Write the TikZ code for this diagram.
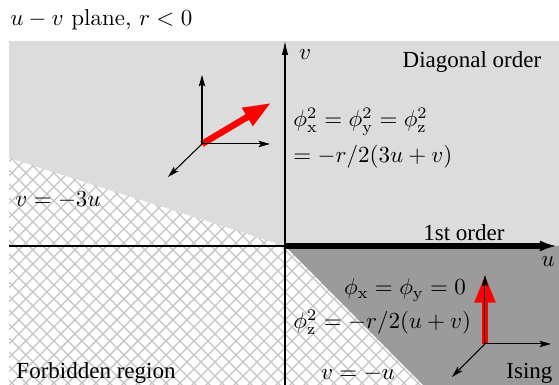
\documentclass[tikz,border=0pt]{standalone}
\usepackage{fontspec}
\newfontfamily\labelfont{Liberation Serif}
\usetikzlibrary{arrows.meta}
\definecolor{diagfill}{HTML}{DCDCDC}
\definecolor{isingfill}{HTML}{9B9B9B}
\definecolor{hatchgray}{HTML}{C4C4C4}
\tikzset{
  axis/.style={black, line width=0.45pt},
  firstorder/.style={black, line width=2.2pt, -{Latex[length=7.4pt,width=4.8pt]}},
  hatch/.style={hatchgray, line width=0.55pt},
  triad/.style={black, line width=0.45pt, -{Stealth[length=5pt,width=2.8pt,inset=1pt]}},
  spin/.style={red, line width=2.8pt, -{Triangle[length=12pt,width=8.5pt]}},
  lbl/.style={inner sep=0pt}
}

\begin{document}
\begin{tikzpicture}
\useasboundingbox (-4.355,-2.124) rectangle (4.187,3.759);

% Regions
\fill[diagfill] (-4.217,1.345) -- (0,0) -- (4.187,0) -- (4.187,3.132) -- (-4.217,3.132) -- cycle;
\fill[isingfill] (0,0) -- (4.187,0) -- (4.187,-2.124) -- (2.109,-2.124) -- cycle;
\begin{scope}
\clip (-4.217,1.345) -- (0,0) -- (2.109,-2.124) -- (-4.217,-2.124) -- cycle;
\foreach \i in {-40,...,30} {
  \draw[hatch] (\i*0.214,-2.2) -- ++(6,6);
  \draw[hatch] (\i*0.214,-2.2) -- ++(-6,6);
}
\end{scope}

% Axes
\coordinate (O) at (0,0);
\coordinate (uL) at (-4.217,0);
\coordinate (uR) at (4.156,0);
\coordinate (vB) at (0,-2.124);
\coordinate (vT) at (0,3.132);
\draw[axis] (uL) -- (O);
\draw[axis,-{Latex[length=6pt,width=2.8pt]}] (vB) -- (vT);
\draw[firstorder] (O) -- (uR);
\node[lbl] (ulabel) at (4.019,-0.244) {$u$};
\node[lbl] (vlabel) at (0.306,2.918) {$v$};

% Title
\node[lbl, anchor=base west] (title) at (-4.202,3.362) {$u-v$ plane, $r<0$};

% Diagonal order
\node[lbl] (diag) at (2.857,2.812) {\labelfont Diagonal order};
\node[lbl, anchor=west] (diageqa) at (0.122,1.895) {$\phi_{\rm x}^2=\phi_{\rm y}^2=\phi_{\rm z}^2$};
\node[lbl, anchor=west] (diageqb) at (0.122,1.360) {$=-r/2(3u+v)$};
\node[lbl, anchor=west] (linea) at (-4.126,0.703) {$v=-3u$};
\node[lbl] (first) at (2.735,0.199) {\labelfont 1st order};

% Ising
\node[lbl] (isingeqa) at (1.834,-0.672) {$\phi_{\rm x}=\phi_{\rm y}=0$};
\node[lbl, anchor=west] (isingeqb) at (0.122,-1.161) {$\phi_{\rm z}^2=-r/2(u+v)$};
\node[lbl] (lineb) at (1.115,-1.956) {$v=-u$};
\node[lbl] (ising) at (3.736,-1.94) {\labelfont Ising};
\node[lbl, anchor=west] (forbid) at (-4.11,-1.94) {\labelfont Forbidden region};

% Triad, diagonal
\coordinate (da) at (-1.268,1.559);
\coordinate (dz) at (-1.268,2.613);
\coordinate (dx) at (-0.229,1.559);
\coordinate (dy) at (-1.788,1.055);
\coordinate (ds) at (-0.214,2.186);
\draw[spin] (da) -- (ds);
\draw[triad] (da) -- (dz);
\draw[triad] (da) -- (dx);
\draw[triad] (da) -- (dy);

% Triad, Ising
\coordinate (ia) at (3.056,-1.497);
\coordinate (iz) at (3.056,-0.443);
\coordinate (ix) at (4.065,-1.497);
\coordinate (iy) at (2.552,-2.001);
\draw[spin] (ia) -- (iz);
\draw[triad] (ia) -- (iz);
\draw[triad] (ia) -- (ix);
\draw[triad] (ia) -- (iy);
\end{tikzpicture}
\end{document}
